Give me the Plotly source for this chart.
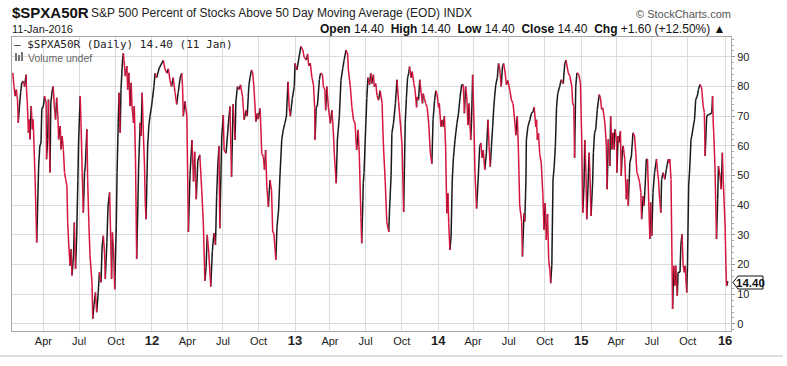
import plotly.graph_objects as go

# ---------------- data ----------------
dates_2011 = ["2011-01-13","2011-01-16","2011-01-19","2011-01-22","2011-01-25","2011-01-27","2011-01-30","2011-02-02","2011-02-05","2011-02-09","2011-02-12","2011-02-16","2011-02-17","2011-02-19","2011-02-22","2011-02-24","2011-02-26","2011-03-01","2011-03-04","2011-03-06","2011-03-09","2011-03-11","2011-03-15","2011-03-17","2011-03-20","2011-03-23","2011-03-26","2011-03-28","2011-04-01","2011-04-04","2011-04-08","2011-04-09","2011-04-12","2011-04-14","2011-04-18","2011-04-20","2011-04-24","2011-04-26","2011-04-29","2011-05-02","2011-05-05","2011-05-08","2011-05-10","2011-05-14","2011-05-16","2011-05-19","2011-05-22","2011-05-25","2011-05-28","2011-05-31","2011-06-02","2011-06-05","2011-06-08","2011-06-11","2011-06-13","2011-06-17","2011-06-19","2011-06-22","2011-06-25","2011-06-28","2011-06-30","2011-07-04","2011-07-06","2011-07-09","2011-07-12","2011-07-15","2011-07-17","2011-07-21","2011-07-23","2011-07-26","2011-07-29","2011-08-03","2011-08-05","2011-08-08","2011-08-12","2011-08-15","2011-08-19","2011-08-22","2011-08-26","2011-08-29","2011-09-01","2011-09-04","2011-09-06","2011-09-10","2011-09-13","2011-09-17","2011-09-19","2011-09-22","2011-09-24","2011-09-27","2011-09-30","2011-10-04","2011-10-06","2011-10-09","2011-10-11","2011-10-14","2011-10-16","2011-10-20","2011-10-22","2011-10-25","2011-10-27","2011-10-31","2011-11-02","2011-11-05","2011-11-08","2011-11-11","2011-11-13","2011-11-17","2011-11-19","2011-11-22","2011-11-25","2011-11-28","2011-11-30","2011-12-04","2011-12-06","2011-12-09","2011-12-12","2011-12-15","2011-12-17","2011-12-19","2011-12-21","2011-12-23","2011-12-26","2011-12-29"]
values_2011 = [84.6,80,76.8,79,75.6,67.8,73.4,77.9,81.3,81.8,80,84,79,74.5,64.4,68.9,62.2,73.4,65.6,68.9,56.6,48.7,27.4,37.5,53.2,60,61,72.3,73.4,76.8,74.5,55.5,62.2,75.6,51,74.5,79,80,73.4,68.9,76.2,70,62.2,66.7,58.8,63.3,58.8,51,48.7,46.5,34.2,26.3,19.6,25.2,16.3,23,34.2,18.5,29.7,48.7,62.2,76.8,67.8,51,37.5,51,53.2,65.6,48.7,34.2,23,14,1.7,6.1,10.6,3.9,10.6,17.4,14,26.3,29.7,24,15.2,27.4,39.8,44.3,33.1,15.2,30.8,25.2,11.7,33.1,51,67.8,77.9,64.4,79,89.1,91.3,86.9,83.5,86.9,79,84.6,73.4,81.3,73.4,67.8,73.4,55.5,21.9,39.8,53.2,67.8,63.3,77.9,64.4,53.2,40.5,35.3,47.6,60,66.7,70]

dates_2012 = ["2012-01-02","2012-01-04","2012-01-08","2012-01-11","2012-01-15","2012-01-22","2012-02-01","2012-02-05","2012-02-10","2012-02-14","2012-02-18","2012-02-22","2012-02-26","2012-03-02","2012-03-06","2012-03-10","2012-03-15","2012-03-19","2012-03-21","2012-03-23","2012-03-27","2012-04-01","2012-04-05","2012-04-09","2012-04-14","2012-04-18","2012-04-21","2012-04-25","2012-04-29","2012-05-04","2012-05-09","2012-05-13","2012-05-17","2012-05-20","2012-05-23","2012-05-27","2012-06-01","2012-06-05","2012-06-09","2012-06-13","2012-06-16","2012-06-19","2012-06-22","2012-06-24","2012-06-29","2012-07-03","2012-07-05","2012-07-10","2012-07-16","2012-07-20","2012-07-24","2012-07-28","2012-08-02","2012-08-04","2012-08-08","2012-08-13","2012-08-16","2012-08-21","2012-08-23","2012-08-25","2012-08-30","2012-09-02","2012-09-06","2012-09-09","2012-09-13","2012-09-16","2012-09-19","2012-09-24","2012-09-28","2012-09-30","2012-10-05","2012-10-09","2012-10-13","2012-10-16","2012-10-19","2012-10-22","2012-10-26","2012-10-30","2012-11-03","2012-11-06","2012-11-09","2012-11-14","2012-11-17","2012-11-21","2012-11-24","2012-11-29","2012-12-03","2012-12-07","2012-12-11","2012-12-15","2012-12-18","2012-12-21","2012-12-26","2012-12-31"]
values_2012 = [73.4,75.6,80,84.5,83,86.4,88.8,86,84.5,86,82,80,83,78,74,78,83,84.5,80,70,75,70,31,50,62,48,58,42,55,57,45,34,14.5,19,30,23.8,12.6,24.4,30.6,26.6,43,53.6,59.9,32.2,63,70.4,58.6,57.5,67.6,73.3,49.6,74,62,74.8,80,79,80.6,76.6,73,68.8,72,70,80,83,85.6,84.5,80,68.2,71,69,72.6,57.5,56.5,52,58.6,46.3,39.5,48.5,45,31,30.6,21.6,32.8,38.4,48.5,62,65.4,67.6,70,81.6,73,70,76,80]

dates_2013 = ["2013-01-02","2013-01-07","2013-01-11","2013-01-17","2013-01-22","2013-01-25","2013-01-31","2013-02-03","2013-02-06","2013-02-10","2013-02-14","2013-02-18","2013-02-21","2013-02-22","2013-02-25","2013-02-28","2013-03-05","2013-03-08","2013-03-13","2013-03-15","2013-03-19","2013-03-21","2013-03-24","2013-03-28","2013-04-02","2013-04-06","2013-04-10","2013-04-12","2013-04-17","2013-04-20","2013-04-25","2013-04-29","2013-05-04","2013-05-07","2013-05-12","2013-05-16","2013-05-18","2013-05-23","2013-05-27","2013-05-31","2013-06-04","2013-06-08","2013-06-12","2013-06-15","2013-06-19","2013-06-21","2013-06-24","2013-06-25","2013-06-27","2013-06-30","2013-07-04","2013-07-07","2013-07-11","2013-07-14","2013-07-17","2013-07-21","2013-07-23","2013-07-27","2013-07-30","2013-08-03","2013-08-07","2013-08-12","2013-08-14","2013-08-16","2013-08-20","2013-08-24","2013-08-29","2013-08-31","2013-09-04","2013-09-06","2013-09-10","2013-09-15","2013-09-19","2013-09-23","2013-09-28","2013-10-02","2013-10-06","2013-10-10","2013-10-13","2013-10-16","2013-10-19","2013-10-21","2013-10-25","2013-10-28","2013-11-01","2013-11-04","2013-11-08","2013-11-09","2013-11-13","2013-11-16","2013-11-20","2013-11-23","2013-11-25","2013-11-28","2013-12-01","2013-12-05","2013-12-09","2013-12-13","2013-12-17","2013-12-20","2013-12-24","2013-12-27","2013-12-30"]
values_2013 = [87.8,85.6,89,93.5,92.3,90,88.9,91,87,87.8,83,80.6,73,62.1,73,73.5,82.3,84.5,84,80,79,72,80,73,67.6,72,64,57.5,47.4,62,70,82,86.4,88.8,92.3,91,85.6,80,73,68.8,67.6,58.6,65.4,56.4,36.2,27.2,41.7,47.4,51,62,76,83,80.6,84.5,81,84,80,81,77,75.4,78.6,74.4,65.4,58.6,48,34.4,31,38.4,50,64.2,67.6,74.3,82.3,75,67,60,37.7,67.6,76,83,84.5,86.7,83,85,81,79,73,76.5,75.4,82.3,77.6,74.3,77.6,76,74.3,73,67.6,57.7,54,68.8,75.4,78.6,77.6]

dates_2014 = ["2014-01-03","2014-01-05","2014-01-09","2014-01-12","2014-01-15","2014-01-18","2014-01-21","2014-01-24","2014-01-27","2014-01-29","2014-02-01","2014-02-04","2014-02-07","2014-02-10","2014-02-14","2014-02-19","2014-02-23","2014-02-27","2014-03-03","2014-03-07","2014-03-10","2014-03-13","2014-03-16","2014-03-19","2014-03-22","2014-03-26","2014-03-28","2014-03-31","2014-04-03","2014-04-06","2014-04-10","2014-04-14","2014-04-18","2014-04-21","2014-04-24","2014-04-27","2014-05-01","2014-05-05","2014-05-09","2014-05-12","2014-05-15","2014-05-18","2014-05-21","2014-05-24","2014-05-26","2014-05-29","2014-06-02","2014-06-05","2014-06-08","2014-06-12","2014-06-15","2014-06-18","2014-06-22","2014-06-25","2014-06-29","2014-07-04","2014-07-08","2014-07-12","2014-07-17","2014-07-19","2014-07-23","2014-07-26","2014-07-29","2014-08-03","2014-08-05","2014-08-09","2014-08-11","2014-08-14","2014-08-15","2014-08-19","2014-08-24","2014-08-28","2014-09-01","2014-09-04","2014-09-08","2014-09-10","2014-09-12","2014-09-15","2014-09-18","2014-09-22","2014-09-26","2014-09-29","2014-10-02","2014-10-05","2014-10-08","2014-10-11","2014-10-14","2014-10-16","2014-10-19","2014-10-22","2014-10-25","2014-10-28","2014-10-31","2014-11-03","2014-11-08","2014-11-12","2014-11-17","2014-11-21","2014-11-24","2014-11-30","2014-12-04","2014-12-09","2014-12-11","2014-12-14","2014-12-16","2014-12-19","2014-12-22","2014-12-27","2014-12-31"]
values_2014 = [73,74.3,66.5,68.8,66.5,70,59.9,37.3,44,33.9,24.9,29.4,48.5,56,62,67.6,71,76.5,80.6,80.6,71,80,76.5,67,74.3,62,67.6,84,70,50.8,38.9,48.5,59.9,61,56,58.6,52,57.5,68.8,59.9,53,59.9,66.5,73,76.5,80.6,83,87.8,86,80,86.7,87.8,84.5,80.6,82,78.6,75.4,74.3,67.6,63.6,70,57.5,40,34.5,22.7,37.3,34.5,48.5,62,66.5,68.8,71,71.5,73,66.5,68.8,62,64.2,57.5,54.3,44,31.7,40.7,28.3,37,21.6,18.2,13.7,20,48.5,53,59.9,73,77.6,80,82.3,81,87.8,88.9,84.6,83.5,80,74.5,73.4,56,80,84.6,84,81]

dates_2015 = ["2015-01-03","2015-01-06","2015-01-09","2015-01-11","2015-01-14","2015-01-16","2015-01-19","2015-01-22","2015-01-24","2015-01-27","2015-01-31","2015-02-02","2015-02-05","2015-02-08","2015-02-12","2015-02-14","2015-02-17","2015-02-20","2015-02-23","2015-02-26","2015-03-01","2015-03-04","2015-03-07","2015-03-09","2015-03-12","2015-03-16","2015-03-18","2015-03-21","2015-03-24","2015-03-27","2015-03-29","2015-04-02","2015-04-03","2015-04-06","2015-04-08","2015-04-12","2015-04-14","2015-04-17","2015-04-19","2015-04-23","2015-04-27","2015-04-30","2015-05-02","2015-05-06","2015-05-10","2015-05-14","2015-05-18","2015-05-21","2015-05-24","2015-05-27","2015-05-31","2015-06-03","2015-06-05","2015-06-09","2015-06-11","2015-06-14","2015-06-17","2015-06-20","2015-06-22","2015-06-26","2015-06-28","2015-07-01","2015-07-04","2015-07-08","2015-07-13","2015-07-15","2015-07-18","2015-07-21","2015-07-24","2015-07-26","2015-07-30","2015-08-03","2015-08-07","2015-08-12","2015-08-14","2015-08-16","2015-08-19","2015-08-23","2015-08-26","2015-08-29","2015-08-31","2015-09-04","2015-09-06","2015-09-11","2015-09-13","2015-09-16","2015-09-19","2015-09-22","2015-09-24","2015-09-28","2015-09-30","2015-10-03","2015-10-06","2015-10-09","2015-10-11","2015-10-15","2015-10-18","2015-10-21","2015-10-25","2015-10-28","2015-11-01","2015-11-05","2015-11-09","2015-11-12","2015-11-14","2015-11-18","2015-11-22","2015-11-26","2015-12-01","2015-12-03","2015-12-05","2015-12-06","2015-12-09","2015-12-13","2015-12-16","2015-12-18","2015-12-22","2015-12-25","2015-12-28","2015-12-30"]
values_2015 = [63.3,37.5,46.5,62,51,35.3,45.4,57.7,51,36.4,47.6,57.7,64.4,65.6,72.3,74.5,77.3,76.2,72.3,72.8,70,66.7,60,45.4,62.2,53.2,70,58.8,64.4,58.8,65.6,62.2,51,63.3,61,65,49.9,58.8,60,55.5,42,48.7,39.8,54.3,56.6,64.4,63.3,57.7,51,49.9,47.6,44.3,35.3,43.1,39.8,46.5,55.5,55.5,46.5,28.6,40.9,29.7,44.3,51,55.5,52,48.7,42,37.5,48.7,51,48.7,52,55.5,54.3,55.5,48.7,5,19.6,12.9,19.6,9.5,17.4,17.4,26.3,30.2,19.6,17.4,19.6,10.6,19.6,46.5,53.2,62.2,63.3,66.7,68.9,75.6,76.8,79,80.7,79.6,73.4,71.2,56.6,70,70.6,70.6,71.2,76.8,66.7,64.4,53.2,28.6,42,53.2,49.9,45.4,57.7,48.7]

dates_2016 = ["2016-01-04","2016-01-05","2016-01-06","2016-01-07","2016-01-08","2016-01-11"]
values_2016 = [33,26.3,20,15,12.8,14.4]

dates = dates_2011 + dates_2012 + dates_2013 + dates_2014 + dates_2015 + dates_2016
values = values_2011 + values_2012 + values_2013 + values_2014 + values_2015 + values_2016

tick_dates = ["2011-04-01","2011-07-01","2011-10-03","2012-01-03","2012-04-02","2012-07-02","2012-10-01",
              "2013-01-02","2013-04-01","2013-07-01","2013-10-01","2014-01-02","2014-04-01","2014-07-01",
              "2014-10-01","2015-01-02","2015-04-01","2015-07-01","2015-10-01","2016-01-04"]
tick_labels = ["Apr","Jul","Oct","12","Apr","Jul","Oct","13","Apr","Jul","Oct","14","Apr","Jul","Oct",
               "15","Apr","Jul","Oct","16"]
y_ticks = [0,10,20,30,40,50,60,70,80,90]
last_value = "14.40"

# ---------------- build up/down coloured segments ----------------
up_x, up_y, dn_x, dn_y = [], [], [], []
for i in range(len(values) - 1):
    if values[i + 1] >= values[i]:
        up_x += [dates[i], dates[i + 1], None]
        up_y += [values[i], values[i + 1], None]
    else:
        dn_x += [dates[i], dates[i + 1], None]
        dn_y += [values[i], values[i + 1], None]

BLACK = "#1a1a1a"
RED = "#d8153e"

fig = go.Figure()
fig.add_trace(go.Scatter(x=up_x, y=up_y, mode="lines", line=dict(color=BLACK, width=1.5),
                         hoverinfo="skip", showlegend=False))
fig.add_trace(go.Scatter(x=dn_x, y=dn_y, mode="lines", line=dict(color=RED, width=1.5),
                         hoverinfo="skip", showlegend=False))

# ---------------- layout ----------------
L, R, T, B = 12, 731, 37, 331
W, H = 787, 366


def px(x):
    return (x - L) / (R - L)


def py(y):
    return (B - y) / (B - T)


tick_text = [("<span style='font-size:13px'><b>%s</b></span>" % t) if t.isdigit() else t
             for t in tick_labels]
FONT = "Liberation Sans, Arial, sans-serif"

fig.update_layout(
    width=W, height=H, autosize=False,
    margin=dict(l=L, r=W - R, t=T, b=H - B),
    paper_bgcolor="white", plot_bgcolor="white",
    font=dict(family=FONT, size=11, color="#222"),
    hovermode=False,
    xaxis=dict(type="date", range=["2011-01-11", "2016-01-19"],
               tickvals=tick_dates, ticktext=tick_text,
               showgrid=True, gridcolor="#dcdcdc", gridwidth=1,
               showline=True, linecolor="#a8a8a8", linewidth=1, mirror=True,
               ticks="", tickfont=dict(size=11, color="#222"), zeroline=False),
    yaxis=dict(side="right", range=[-2.4, 96.7], tickvals=y_ticks,
               showgrid=True, gridcolor="#dcdcdc", gridwidth=1,
               showline=True, linecolor="#a8a8a8", linewidth=1, mirror=True,
               ticks="outside", ticklen=3, tickcolor="#999",
               minor=dict(dtick=2, ticks="outside", ticklen=2, tickcolor="#aaa", showgrid=False),
               tickfont=dict(size=11, color="#222"), zeroline=False),
)

ann = []
ann.append(dict(x=px(10), y=py(13), text="<b>$SPXA50R</b>", font=dict(size=15, color="#111")))
ann.append(dict(x=px(89), y=py(13),
                text="S&amp;P 500 Percent of Stocks Above 50 Day Moving Average (EOD) INDX",
                font=dict(size=12, color="#222")))
ann.append(dict(x=px(10), y=py(29), text="11-Jan-2016", font=dict(size=11, color="#222")))
ann.append(dict(x=px(727), y=py(29), xanchor="right",
                text="<b>Open</b> 14.40  <b>High</b> 14.40  <b>Low</b> 14.40  <b>Close</b> 14.40  "
                     "<b>Chg</b> +1.60 (+12.50%) \u25b2",
                font=dict(size=12, color="#111")))
ann.append(dict(x=px(733), y=py(14), xanchor="right", text="\u00a9 StockCharts.com",
                font=dict(size=11, color="#555")))
ann.append(dict(x=px(12), y=py(44.5), text="\u2014 $SPXA50R (Daily) 14.40 (11 Jan)",
                font=dict(family="DejaVu Sans Mono, monospace", size=11, color="#222")))
ann.append(dict(x=px(26), y=py(57.5), text="Volume undef", font=dict(size=10.5, color="#666")))
ann.append(dict(x=px(750), y=py(282.5), xanchor="center", text="<b>%s</b>" % last_value,
                font=dict(size=11.5, color="#111")))
for a in ann:
    a.setdefault("xanchor", "left")
    a.update(xref="paper", yref="paper", yanchor="middle", showarrow=False)
fig.update_layout(annotations=ann)

shapes = []
# bottom separator line
shapes.append(dict(type="line", xref="paper", yref="paper", x0=px(0), x1=px(783), y0=py(356), y1=py(356),
                   line=dict(color="#bdbdbd", width=1)))
# volume icon bars
for bx, top in [(15, 53), (18, 55), (21, 52)]:
    shapes.append(dict(type="rect", xref="paper", yref="paper", x0=px(bx), x1=px(bx + 2),
                       y0=py(61), y1=py(top), fillcolor="#777", line=dict(width=0)))
# last value tag
path = "M %f %f L %f %f L %f %f L %f %f L %f %f Z" % (
    px(733), py(282.5), px(738), py(276), px(763), py(276), px(763), py(289), px(738), py(289))
shapes.append(dict(type="path", xref="paper", yref="paper", path=path, fillcolor="white",
                   line=dict(color="#111", width=1)))
fig.update_layout(shapes=shapes)

fig.write_html("out.html", config={"displayModeBar": False, "staticPlot": True},
               post_script="document.body.style.margin='0';document.body.style.padding='0';")
